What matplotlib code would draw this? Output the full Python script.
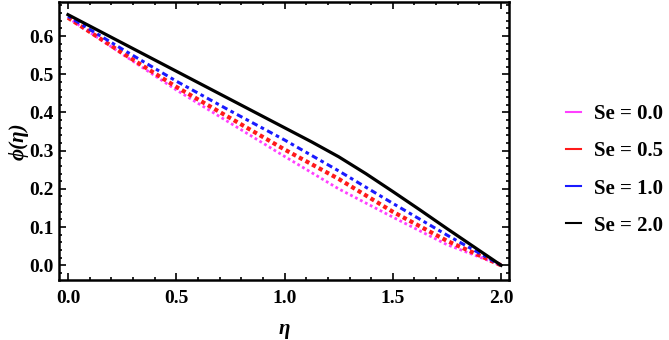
import numpy as np
import matplotlib
matplotlib.use('Agg')
import matplotlib.pyplot as plt
from matplotlib.ticker import MultipleLocator

# values
eta = [0.0, 0.25, 0.5, 0.75, 1.0, 1.25, 1.5, 1.75, 2.0]
phi_se00 = [0.648, 0.553, 0.459, 0.372, 0.285, 0.200, 0.126, 0.054, 0.0]
phi_se05 = [0.648, 0.556, 0.467, 0.385, 0.303, 0.226, 0.140, 0.064, 0.0]
phi_se10 = [0.652, 0.566, 0.482, 0.404, 0.328, 0.247, 0.162, 0.079, 0.0]
eta_se20 = [0.0, 0.25, 0.5, 0.75, 1.0, 1.125, 1.25, 1.375, 1.5, 1.625, 1.75, 1.875, 2.0]
phi_se20 = [0.656, 0.582, 0.508, 0.434, 0.360, 0.323, 0.284, 0.240, 0.193, 0.145, 0.096, 0.048, 0.0]
labels = ['Se = 0.0', 'Se = 0.5', 'Se = 1.0', 'Se = 2.0']
colors = ['#ff40ff', '#ff1a1a', '#1a1aff', 'black']

serif = ['Liberation Serif', 'DejaVu Serif']
plt.rcParams['font.family'] = serif
plt.rcParams['font.weight'] = 'bold'

fig = plt.figure(figsize=(6.69, 3.40), dpi=100)
ax = fig.add_axes([0.088, 0.176, 0.673, 0.818])

ax.plot(eta, phi_se00, color=colors[0], lw=2.0, ls=(0, (1, 1)))
ax.plot(eta, phi_se05, color=colors[1], lw=3.0, ls=(0, (1, 0.8)))
ax.plot(eta, phi_se10, color=colors[2], lw=2.2, ls=(0, (1.2, 1.2, 2.0, 1.2)))
ax.plot(eta_se20, phi_se20, color=colors[3], lw=2.3)

ax.set_xlim(-0.042, 2.037)
ax.set_ylim(-0.039, 0.689)
ax.xaxis.set_major_locator(MultipleLocator(0.5))
ax.xaxis.set_minor_locator(MultipleLocator(0.1))
ax.yaxis.set_major_locator(MultipleLocator(0.1))
ax.yaxis.set_minor_locator(MultipleLocator(0.02))
ax.xaxis.set_major_formatter(plt.FormatStrFormatter('%.1f'))
ax.yaxis.set_major_formatter(plt.FormatStrFormatter('%.1f'))
ax.tick_params(which='both', direction='in', top=True, right=True, width=1.2)
ax.tick_params(which='major', length=5, labelsize=14)
ax.tick_params(axis='x', which='major', pad=7)
ax.tick_params(axis='y', which='major', pad=4)
ax.tick_params(which='minor', length=2.5)
for lab in ax.get_xticklabels() + ax.get_yticklabels():
    lab.set_fontweight('bold')
for s in ax.spines.values():
    s.set_linewidth(1.8)

ax.set_xlabel('η', fontsize=15, fontstyle='italic', fontweight='bold', labelpad=9)
ax.set_ylabel('ϕ(η)', fontsize=15, fontstyle='italic', fontweight='bold', labelpad=0)

handles = [plt.Line2D([], [], color=c, lw=1.5) for c in colors]
fig.legend(handles, labels, loc='center left', bbox_to_anchor=(0.833, 0.5),
           borderaxespad=0, frameon=False, handlelength=0.75, handletextpad=0.6,
           labelspacing=0.82, prop={'family': serif, 'weight': 'bold', 'size': 15})

fig.savefig('out.png', dpi=100)
